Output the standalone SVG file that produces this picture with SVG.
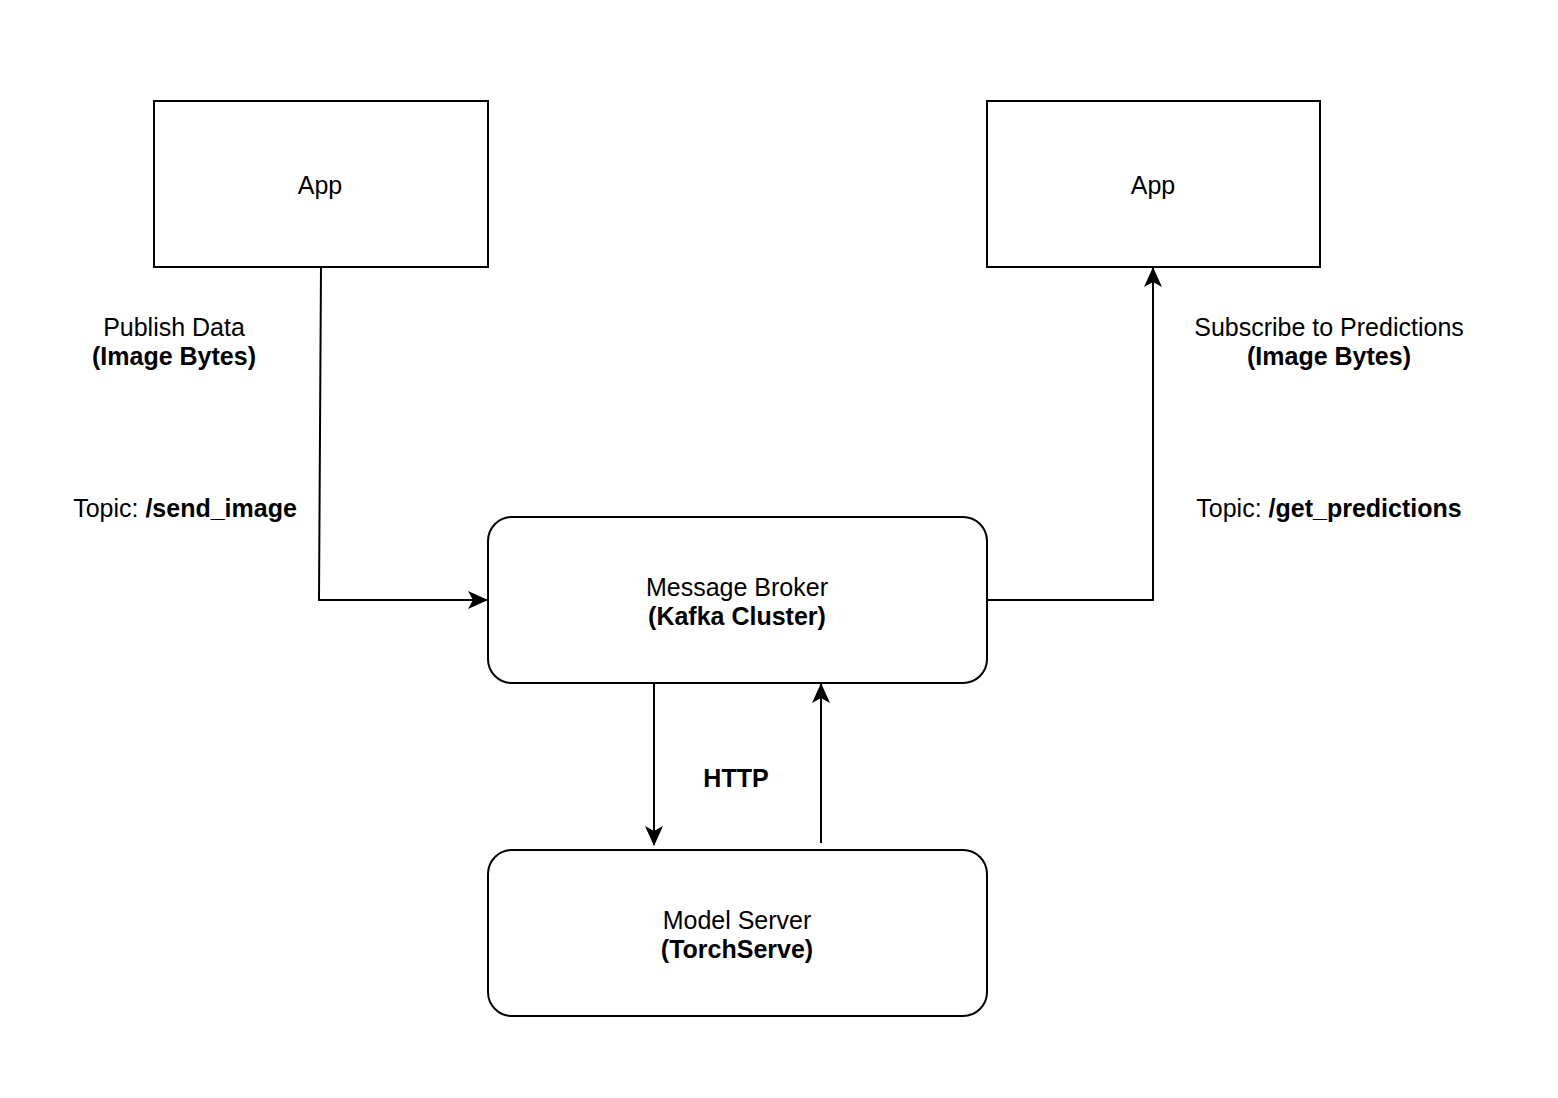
<svg xmlns="http://www.w3.org/2000/svg" width="1558" height="1098" viewBox="0 0 1558 1098">
<defs>
<style>
.box{fill:#fff;stroke:#000;stroke-width:2}
.t{font-family:"Liberation Sans",Arial,sans-serif;font-size:25px;fill:#000;text-anchor:middle}
.b{font-weight:bold}
.c{fill:none;stroke:#000;stroke-width:2}
</style>
<marker id="ah" viewBox="0 0 20 18" refX="19" refY="9" markerWidth="20" markerHeight="18" markerUnits="userSpaceOnUse" orient="auto">
<path d="M0,0 L20,9 L0,18 L5,9 Z" fill="#000"/>
</marker>
</defs>
<rect width="1558" height="1098" fill="#fff"/>
<g id="connectors">
<path class="c" d="M321,267 L319,600 L487,600" marker-end="url(#ah)"/>
<path class="c" d="M987,600 L1153,600 L1153,268" marker-end="url(#ah)"/>
<path class="c" d="M654,683 L654,845" marker-end="url(#ah)"/>
<path class="c" d="M821,843 L821,684" marker-end="url(#ah)"/>
</g>
<g id="app-left">
<rect class="box" x="154" y="101" width="334" height="166"/>
<text class="t" x="320" y="194">App</text>
</g>
<g id="app-right">
<rect class="box" x="987" y="101" width="333" height="166"/>
<text class="t" x="1153" y="194">App</text>
</g>
<g id="broker">
<rect class="box" x="488" y="517" width="499" height="166" rx="24" ry="24"/>
<text class="t" x="737" y="596">Message Broker</text>
<text class="t b" x="737" y="625">(Kafka Cluster)</text>
</g>
<g id="model-server">
<rect class="box" x="488" y="850" width="499" height="166" rx="24" ry="24"/>
<text class="t" x="737" y="929">Model Server</text>
<text class="t b" x="737" y="958">(TorchServe)</text>
</g>
<g id="labels">
<text class="t" x="174" y="336">Publish Data</text>
<text class="t b" x="174" y="365">(Image Bytes)</text>
<text class="t" x="185" y="517">Topic: <tspan class="b">/send_image</tspan></text>
<text class="t" x="1329" y="336">Subscribe to Predictions</text>
<text class="t b" x="1329" y="365">(Image Bytes)</text>
<text class="t" x="1329" y="517">Topic: <tspan class="b">/get_predictions</tspan></text>
<text class="t b" x="736" y="787">HTTP</text>
</g>
</svg>
